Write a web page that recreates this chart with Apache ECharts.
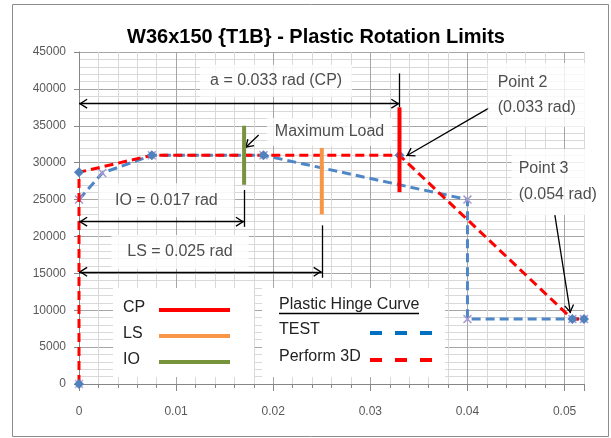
<!DOCTYPE html>
<html>
<head>
<meta charset="utf-8">
<script src="https://cdn.jsdelivr.net/npm/echarts@6/dist/echarts.min.js"></script>
<style>
  html, body { margin: 0; padding: 0; background: #fff; }
  #chart { width: 611px; height: 438px; }
</style>
</head>
<body>
<div id="chart"></div>
<script>
// ---- data ----
const titleText = 'W36x150 {T1B} - Plastic Rotation Limits';
const xTicks = [0, 0.01, 0.02, 0.03, 0.04, 0.05];
const yTicks = [0, 5000, 10000, 15000, 20000, 25000, 30000, 35000, 40000, 45000];

// TEST plastic hinge curve (rotation in rad, load); the first point is the
// unloaded origin, plotted as a marker only
const testRot  = [0, 0,     0.0024, 0.0075, 0.019, 0.040, 0.040, 0.0508, 0.052];
const testLoad = [0, 25000, 28600,  31000,  31000, 25000, 8800,  8800,   8800];

// Perform 3D backbone curve
const p3dRot  = [0, 0,     0.0075, 0.019, 0.033, 0.0508, 0.052];
const p3dLoad = [0, 28700, 31000,  31000, 31000, 8800,   8800];

// acceptance limits drawn as vertical bars
const limitNames  = ['CP', 'LS', 'IO'];
const limitRot    = [0.033, 0.025, 0.017];
const limitTop    = [37500, 32000, 35000];
const limitBottom = [26000, 23000, 27000];
const limitColors = ['#FF0000', '#F79646', '#77933C'];

// dimension arrows from the origin to each limit
const dimText   = ['a = 0.033 rad (CP)', 'IO = 0.017 rad', 'LS = 0.025 rad'];
const dimRot    = [0.033, 0.017, 0.025];
const dimLoad   = [38000, 22000, 15200];
const leaderTop = [42100, 26300, 21500];
const leaderBot = [37500, 21300, 14400];
const dimLabelRot  = [0.0203, 0.0090, 0.0104];
const dimLabelLoad = [41100, 24900, 17900];

// call-out arrows
const calloutText    = ['Maximum Load', 'Point 2\n(0.033 rad)', 'Point 3\n(0.054 rad)'];
const calloutFrom    = [[0.0185, 33750], [0.0422, 37400], [0.0490, 22900]];
const calloutTo      = [[0.0171, 32000], [0.0337, 30900], [0.0506, 9600]];
const calloutAnchor  = [[0.0258, 34150], [0.04208, 39170], [0.04455, 27380]];

const curveNames  = ['TEST', 'Perform 3D'];
const curveColors = ['#4F86C6', '#FF0000'];
const legendCurveColors = ['#0070C0', '#FF0000'];
const legendHeader = 'Plastic Hinge Curve';

// ---- styling helpers ----
const FONT = '"Liberation Sans", Arial, sans-serif';
const TEXT_COLOR = '#222222';
const ARROW = 'path://M5,-9L5.01,-9M5,0L10,8.5L8.9,9.3L5,2.7L1.1,9.3L0,8.5Z';
const XMARK = 'path://M0,1.2L1.2,0L5,3.8L8.8,0L10,1.2L6.2,5L10,8.8L8.8,10L5,6.2L1.2,10L0,8.8L3.8,5Z';
const XMARK_COLOR = '#A79BD2';

const near = (v, list) => list.some(t => Math.abs(t - v) < 1e-9);
const pairs = (xs, ys) => xs.map((x, i) => [x, ys[i]]);
const testPts = pairs(testRot, testLoad);

const chart = echarts.init(document.getElementById('chart'), null, { renderer: 'canvas' });

// limit bars
const limitSeries = limitNames.map((name, i) => ({
  name,
  type: 'line',
  z: 6,
  symbol: 'none',
  silent: true,
  lineStyle: { color: limitColors[i], width: 4 },
  data: [[limitRot[i], limitBottom[i]], [limitRot[i], limitTop[i]]]
}));

// black annotation lines (dimension arrows, leaders, call-outs)
const markLines = [];
dimRot.forEach((r, i) => {
  markLines.push([{ coord: [0, dimLoad[i]] }, { coord: [r, dimLoad[i]] }]);
  markLines.push([{ coord: [r, leaderTop[i]], symbol: 'none' }, { coord: [r, leaderBot[i]], symbol: 'none' }]);
});
calloutFrom.forEach((f, i) => {
  markLines.push([{ coord: f, symbol: 'none' }, { coord: calloutTo[i] }]);
});

// text boxes
const labelData = [];
dimText.forEach((t, i) => {
  labelData.push({ name: t, value: [dimLabelRot[i], dimLabelLoad[i]],
    label: { padding: i === 0 ? [8, 10, 8, 10] : [9, 16, 9, 16] } });
});
labelData.push({ name: calloutText[0], value: calloutAnchor[0], label: { padding: [6, 8, 6, 8] } });
labelData.push({ name: calloutText[1], value: calloutAnchor[1],
  label: { align: 'left', padding: [7, 12, 7, 10], lineHeight: 25 } });
labelData.push({ name: calloutText[2], value: calloutAnchor[2],
  label: { align: 'left', padding: [7, 10, 7, 7], lineHeight: 26 } });

// legend drawn as graphic elements
const legendEls = [
  { type: 'rect', shape: { x: 113, y: 288, width: 141, height: 89 }, style: { fill: '#fff' }, z: 100 },
  { type: 'rect', shape: { x: 262, y: 288, width: 183, height: 89 }, style: { fill: '#fff' }, z: 100 }
];
limitNames.forEach((n, i) => {
  const y = 309 + i * 26;
  legendEls.push({ type: 'text', x: 123, y: y - 1, z: 101,
    style: { text: n, fill: TEXT_COLOR, font: '16px ' + FONT, align: 'left', verticalAlign: 'middle', textAlign: 'left', textVerticalAlign: 'middle' } });
  legendEls.push({ type: 'line', z: 101, shape: { x1: 159, y1: y + 1, x2: 230, y2: y + 1 },
    style: { stroke: limitColors[i], lineWidth: 4 } });
});
legendEls.push({ type: 'text', x: 279, y: 305, z: 101,
  style: { text: legendHeader, fill: TEXT_COLOR, font: '16px ' + FONT, align: 'left', verticalAlign: 'middle', textAlign: 'left', textVerticalAlign: 'middle' } });
legendEls.push({ type: 'line', z: 101, shape: { x1: 279, y1: 313.5, x2: 419, y2: 313.5 },
  style: { stroke: '#000', lineWidth: 1.3 } });
curveNames.forEach((n, i) => {
  const y = 330 + i * 27;
  legendEls.push({ type: 'text', x: 279, y, z: 101,
    style: { text: n, fill: TEXT_COLOR, font: '16px ' + FONT, align: 'left', verticalAlign: 'middle', textAlign: 'left', textVerticalAlign: 'middle' } });
  legendEls.push({ type: 'line', z: 101, shape: { x1: 370, y1: y + 3, x2: 439, y2: y + 3 },
    style: { stroke: legendCurveColors[i], lineWidth: 4, lineDash: [12, 13] } });
});

const option = {
  animation: false,
  backgroundColor: '#fff',
  grid: { left: 79, right: 27, top: 52, bottom: 54, containLabel: false },
  graphic: [
    { type: 'rect', shape: { x: 12.5, y: 4.5, width: 596, height: 432 }, style: { fill: 'none', stroke: '#8C8C8C', lineWidth: 1 }, z: -1 },
    { type: 'text', x: 316, y: 37, z: 100,
      style: { text: titleText, fill: '#000', font: 'bold 20px ' + FONT, align: 'center', verticalAlign: 'middle', textAlign: 'center', textVerticalAlign: 'middle' } }
  ].concat(legendEls),
  xAxis: [{
    type: 'value', min: 0, max: 0.052, interval: 0.002,
    axisLine: { show: true, lineStyle: { color: '#868686' } },
    axisTick: { show: true, length: 4, lineStyle: { color: '#868686' } },
    axisLabel: {
      margin: 22, color: '#595959', fontSize: 12, fontFamily: FONT,
      showMaxLabel: false,
      formatter: v => near(v, xTicks) ? String(+v.toFixed(2)) : ''
    },
    splitLine: { show: true, lineStyle: { color: ['#A6A6A6', '#D9D9D9', '#D9D9D9', '#D9D9D9', '#D9D9D9'], width: 1 } }
  }, {
    type: 'value', min: 0, max: 0.052, interval: 0.01, position: 'bottom',
    axisLine: { show: false },
    axisTick: { show: true, length: 7, lineStyle: { color: '#868686' } },
    axisLabel: { show: false },
    splitLine: { show: false }
  }],
  yAxis: {
    type: 'value', min: 0, max: 45000, interval: 5000,
    axisLine: { show: true, lineStyle: { color: '#868686' } },
    axisTick: { show: true, length: 5, lineStyle: { color: '#868686' } },
    axisLabel: { margin: 13, color: '#595959', fontSize: 12, fontFamily: FONT,
      formatter: v => near(v, yTicks) ? String(v) : '' },
    splitLine: { show: true, lineStyle: { color: '#A6A6A6' } },
    minorTick: { show: false, splitNumber: 5 },
    minorSplitLine: { show: true, lineStyle: { color: '#D9D9D9' } }
  },
  series: [
    {
      name: curveNames[0], type: 'scatter', z: 3,
      data: testPts.slice(0, 1),
      symbol: XMARK, symbolSize: 9,
      itemStyle: { color: XMARK_COLOR }
    },
    {
      name: curveNames[0], type: 'line', z: 3,
      data: testPts.slice(1),
      symbol: XMARK, symbolSize: 9, showSymbol: true,
      itemStyle: { color: XMARK_COLOR },
      lineStyle: { color: curveColors[0], width: 3, type: [9, 5] }
    },
    {
      name: curveNames[1], type: 'line', z: 4,
      data: pairs(p3dRot, p3dLoad),
      symbol: 'diamond', symbolSize: 10,
      itemStyle: { color: '#4F81BD' },
      lineStyle: { color: curveColors[1], width: 3, type: [9, 5] }
    }
  ].concat(limitSeries).concat([
    {
      name: 'annotations', type: 'line', z: 8, data: [], silent: true,
      markLine: {
        silent: true, animation: false,
        symbol: [ARROW, ARROW], symbolSize: [10, 17],
        label: { show: false },
        lineStyle: { color: '#000', width: 1.3, type: 'solid' },
        data: markLines
      }
    },
    {
      name: 'labels', type: 'scatter', z: 10, silent: true,
      symbolSize: 0,
      data: labelData,
      label: {
        show: true, position: 'inside', formatter: '{b}',
        color: TEXT_COLOR, fontSize: 16, fontFamily: FONT,
        backgroundColor: '#fff', verticalAlign: 'middle'
      }
    }
  ])
};

chart.setOption(option);
</script>
</body>
</html>
